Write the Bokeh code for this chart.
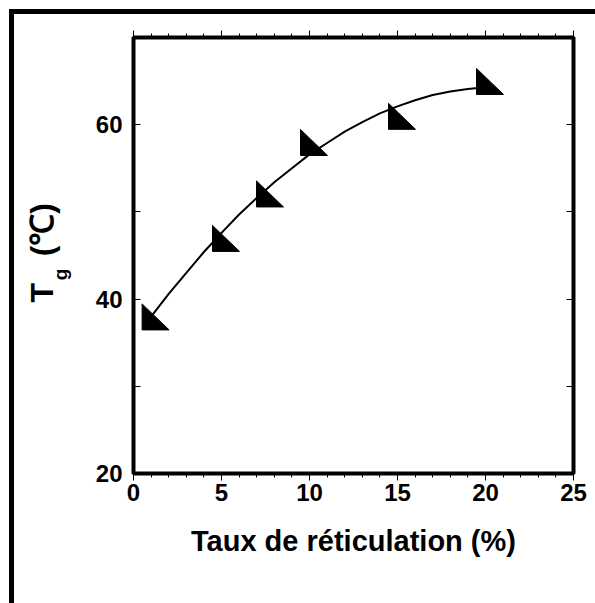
from bokeh.plotting import figure
from bokeh.models import Range1d, LinearAxis, FixedTicker, Title, CustomJSTickFormatter
from bokeh.embed import file_html
from bokeh.resources import INLINE

# ---- data ----
taux_pts = [1, 5, 7.5, 10, 15, 20]
tg_pts = [37.5, 46.5, 51.6, 57.5, 60.5, 64.5]

taux_fit = [1, 2, 3, 4, 5, 6, 7, 8, 9, 10, 11, 12, 13, 14, 15, 16, 17, 18, 19, 20]
tg_fit = [38.0, 40.6, 43.0, 45.4, 47.6, 49.7, 51.6, 53.4, 55.0, 56.6,
          57.9, 59.2, 60.3, 61.3, 62.1, 62.8, 63.4, 63.8, 64.1, 64.3]

x_major = [0, 5, 10, 15, 20, 25]
x_minor = list(range(0, 26))
y_major = [20, 40, 60]
y_minor = [30, 50]

X0, X1 = 0, 25
Y0, Y1 = 20, 70

FONT = "Liberation Sans"

W, H = 586, 594
BL, BR, BT, BB = 119, 27, 23, 135
FW = W - BL - BR
FH = H - BT - BB
ppx = FW / (X1 - X0)
ppy = FH / (Y1 - Y0)

p = figure(width=W, height=H, x_range=Range1d(X0, X1), y_range=Range1d(Y0, Y1),
           output_backend="svg", toolbar_location=None,
           min_border_left=BL, min_border_right=BR, min_border_top=BT, min_border_bottom=BB)
p.styles = {"margin-left": "9px", "margin-top": "9px",
            "border-left": "5px solid black", "border-top": "5px solid black",
            "box-sizing": "border-box", "overflow": "hidden"}
p.grid.visible = False
p.outline_line_color = "black"
p.outline_line_width = 4
p.background_fill_color = "white"
p.border_fill_color = "white"

xt = FixedTicker(ticks=x_major, minor_ticks=x_minor)
yt = FixedTicker(ticks=y_major, minor_ticks=y_minor)


def style_axis(ax):
    ax.axis_line_color = None
    ax.major_tick_line_color = "black"
    ax.minor_tick_line_color = "black"
    ax.major_tick_line_width = 1
    ax.minor_tick_line_width = 1
    ax.major_label_text_font = FONT
    ax.major_label_text_font_style = "bold"
    ax.major_label_text_font_size = "24px"
    ax.major_label_text_color = "black"


# bottom axis
xa = p.xaxis[0]
xa.ticker = xt
style_axis(xa)
xa.major_tick_out = 7
xa.major_tick_in = 0
xa.minor_tick_out = 4
xa.minor_tick_in = 0
xa.major_label_standoff = 3
xa.axis_label = "Taux de réticulation (%)"
xa.axis_label_text_font = FONT
xa.axis_label_text_font_style = "bold"
xa.axis_label_text_font_size = "29px"
xa.axis_label_text_color = "black"
xa.axis_label_standoff = 21

# left axis (its label carries the subscript "g")
ya = p.yaxis[0]
ya.ticker = yt
style_axis(ya)
ya.major_tick_in = 7
ya.major_tick_out = 0
ya.minor_tick_in = 7
ya.minor_tick_out = 0
ya.major_label_standoff = 11
ya.axis_label = "g\u2003\u2003"
ya.axis_label_text_font = FONT
ya.axis_label_text_font_style = "bold"
ya.axis_label_text_font_size = "19px"
ya.axis_label_text_color = "black"
ya.axis_label_standoff = 22

blank = CustomJSTickFormatter(code="return '';")

# top axis
ta = LinearAxis(ticker=xt, formatter=blank)
style_axis(ta)
ta.major_tick_out = 7
ta.major_tick_in = 0
ta.minor_tick_out = 4
ta.minor_tick_in = 0
p.add_layout(ta, "above")

# right axis
ra = LinearAxis(ticker=yt, formatter=blank)
style_axis(ra)
ra.major_tick_in = 7
ra.major_tick_out = 0
ra.minor_tick_in = 7
ra.minor_tick_out = 0
p.add_layout(ra, "right")

# y title "T (℃)" placed outside the axis band, starting at the reference position
yt_title = Title(text="T\u2002\u2004(℃)", align="left", offset=171, vertical_align="bottom",
                 standoff=-26, text_font=FONT, text_font_style="bold",
                 text_font_size="32px", text_color="black")
p.add_layout(yt_title, "left")

# fitted curve
p.line(taux_fit, tg_fit, line_color="black", line_width=2)

# right-triangle markers (right angle at lower-left), size in pixels -> data units
tri_xs = [[x - 9 / ppx, x - 9 / ppx, x + 18 / ppx] for x in taux_pts]
tri_ys = [[y + 17 / ppy, y - 9 / ppy, y - 9 / ppy] for y in tg_pts]
p.patches(tri_xs, tri_ys, fill_color="black", line_color="black", line_width=1)

open("out.html", "w").write(file_html(p, INLINE))
